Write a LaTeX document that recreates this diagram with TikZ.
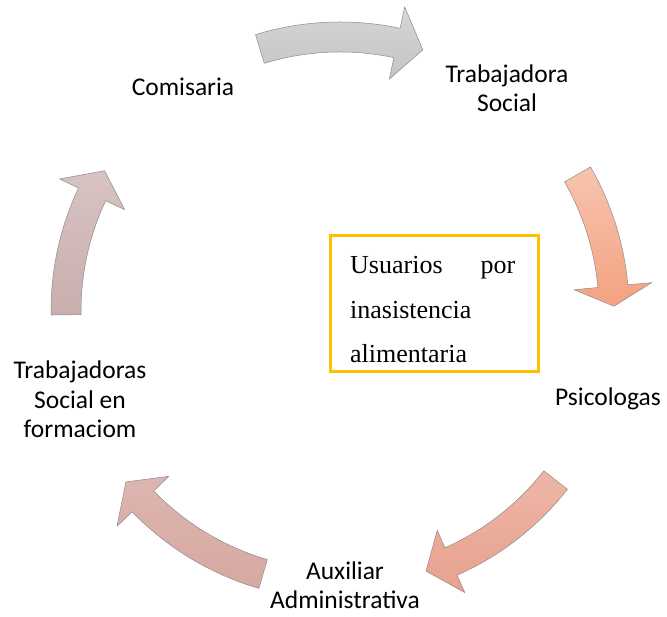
\documentclass[tikz,border=0pt]{standalone}
\usepackage{fontspec}
\setmainfont{Carlito}
\newfontfamily\boxfont{Liberation Serif}
\definecolor{aTop1}{HTML}{D6D6D6}\definecolor{aTop2}{HTML}{C4C4C4}
\definecolor{aR1}{HTML}{F7C4AE}\definecolor{aR2}{HTML}{F4A282}
\definecolor{aBR1}{HTML}{EDB6A7}\definecolor{aBR2}{HTML}{E8A18E}
\definecolor{aBL1}{HTML}{DDB6AF}\definecolor{aBL2}{HTML}{D6A8A1}
\definecolor{aL1}{HTML}{D8C3C3}\definecolor{aL2}{HTML}{C9AEAD}
\definecolor{boxgold}{HTML}{FFC000}
\tikzset{
  cyclelabel/.style={inner sep=0pt, align=center, font=\fontsize{25.5}{29.5}\selectfont},
  cyclearrow/.style={draw=black!45, line width=0.5pt, line join=round},
  goalbox/.style={draw=boxgold, line width=2.7pt, fill=white, inner sep=0pt},
}
% #1 tail angle, #2 head-base angle, #3 tip angle, #4 half head width, #5 top colour, #6 bottom colour
\newcommand\cyclearrowdraw[6]{%
  \path[cyclearrow, top color=#5, bottom color=#6, shift={(340,306)}]
    (#1:289) arc[start angle=#1, end angle=#2, radius=289pt]
    -- (#2:{274+#4}) -- (#3:274) -- (#2:{274-#4}) -- (#2:259)
    arc[start angle=#2, end angle=#1, radius=259pt] -- cycle;}
\begin{document}
\begin{tikzpicture}[x=1pt,y=1pt]
\useasboundingbox[fill=white] (0,0) rectangle (667,617);
% arrows
\cyclearrowdraw{107}{78}{72.4}{37}{aTop1}{aTop2}
\cyclearrowdraw{29.9}{5.2}{1.0}{39}{aR1}{aR2}
\cyclearrowdraw{-38.1}{-66.1}{-71.7}{34}{aBR1}{aBR2}
\cyclearrowdraw{-106.3}{-136}{-141.4}{36}{aBL1}{aBL2}
\cyclearrowdraw{180.8}{154.8}{149.2}{36}{aL1}{aL2}
% labels (anchor=base is the baseline of the last line)
\node[cyclelabel, anchor=base] (comisaria) at (183,521) {Comisaria};
\node[cyclelabel, anchor=base] (trabajadora) at (507,505) {Trabajadora\\Social};
\node[cyclelabel, anchor=base] (psicologas) at (608,211) {Psicologas};
\node[cyclelabel, anchor=base] (auxiliar) at (345,8) {Auxiliar\\Administrativa};
\node[cyclelabel, anchor=base] (formacion) at (80,179) {Trabajadoras\\Social en\\formaciom};
% central box
\node[goalbox, minimum width=208pt, minimum height=136pt, anchor=south west] (box) at (329,244) {};
\node[inner sep=0pt, anchor=base west, text width=165pt, align=left,
      font=\boxfont\fontsize{26}{44.5}\selectfont] (boxtext) at (350,343)
      {Usuarios\hfill por\\inasistencia\\alimentaria};
\end{tikzpicture}
\end{document}
